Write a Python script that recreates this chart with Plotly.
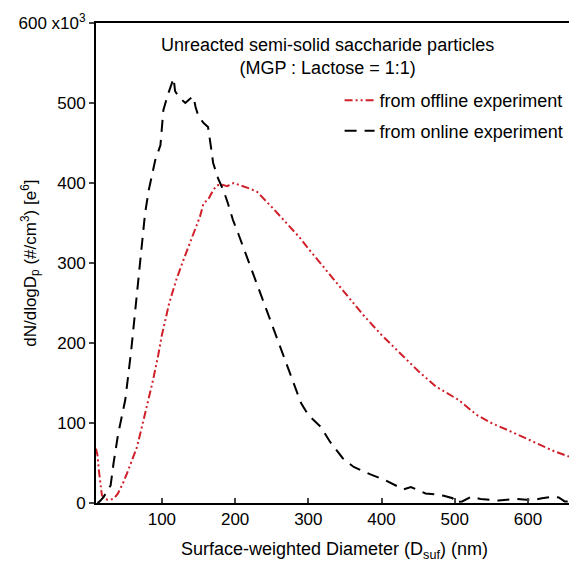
import plotly.graph_objects as go

# Online experiment (black dashed)
online_x = [12, 15, 20, 25, 30, 34, 40, 47, 50, 58, 65, 71, 77, 82, 88, 91, 98, 102, 108, 113, 116, 118,
            120, 126, 132, 138, 143, 146, 150, 157, 163, 167, 170, 177, 184, 190, 197, 205, 216, 225, 232,
            240, 248, 258, 268, 278, 290, 300, 317, 330, 347, 362, 384, 404, 420, 430, 440, 448, 460, 473,
            485, 497, 499, 510, 523, 535, 545, 560, 571, 585, 598, 610, 619, 634, 642, 650, 656]
online_y = [0, 2, 7, 14, 22, 50, 85, 116, 129, 190, 255, 308, 362, 391, 415, 429, 447, 491, 510, 525, 531,
            515, 512, 505, 500, 505, 508, 495, 483, 475, 470, 445, 425, 405, 391, 375, 354, 335, 308, 285,
            270, 250, 229, 205, 179, 155, 125, 110, 95, 76, 56, 45, 36, 29, 22, 17, 20, 17, 12, 11,
            9, 6, 1, 2, 8, 5, 4, 3, 4, 5, 4, 4, 6, 8, 7, 2, 2]

# Offline experiment (red dash-dot)
offline_x = [10, 12, 14, 16, 18, 22, 26, 30, 35, 40, 47, 54, 60, 66, 75, 84, 88, 95, 100, 110, 120, 129.5,
             136, 143, 152, 157, 163, 170, 175, 182, 189, 198, 207, 215, 220, 230, 240, 250, 262, 275, 288,
             300, 316, 330, 350, 375, 400, 425, 450, 475, 505, 530, 550, 575, 592, 615, 635, 656]
offline_y = [68, 60, 40, 20, 10, 5, 4, 4, 6, 12, 25, 41, 55, 70, 104, 137, 154, 185, 210, 250, 280, 304,
             320, 337, 358, 375, 379, 391, 397, 398, 396, 400, 397, 395, 393, 389, 380, 370, 358, 345, 332,
             318, 300, 285, 262, 235, 210, 188, 165, 145, 129, 110, 100, 90, 83, 73, 65, 58]

x_ticks = [100, 200, 300, 400, 500, 600]
y_ticks = [0, 100, 200, 300, 400, 500, 600]
y_ticktext = ["0", "100", "200", "300", "400", "500", "600 x10<sup>3</sup>"]

FONT = "Arial, Liberation Sans, sans-serif"

fig = go.Figure()
fig.add_trace(go.Scatter(
    x=offline_x, y=offline_y, mode="lines", name="from offline experiment",
    line=dict(color="#d0202a", width=2, dash="8px,3px,2px,3px,2px,3px"),
    legendgroup="a"))
fig.add_trace(go.Scatter(
    x=online_x, y=online_y, mode="lines", name="from online experiment",
    line=dict(color="black", width=2, dash="12px,8px"),
    legendgroup="b"))

fig.update_layout(
    width=569, height=563,
    margin=dict(l=96, r=0, t=23, b=60),
    paper_bgcolor="white", plot_bgcolor="white",
    font=dict(family=FONT, size=18, color="black"),
    showlegend=True,
    legend=dict(x=0.515, y=0.877, xanchor="left", yanchor="top",
                bgcolor="rgba(0,0,0,0)", font=dict(size=18),
                traceorder="grouped", tracegroupgap=4),
    xaxis=dict(range=[10, 656], tickvals=x_ticks, ticks="inside", ticklen=5,
               tickwidth=1.5, showline=True, linecolor="black", linewidth=2,
               mirror=True, showgrid=False, zeroline=False,
               tickfont=dict(size=17)),
    yaxis=dict(range=[0, 600], tickvals=y_ticks, ticktext=y_ticktext,
               ticks="outside", ticklen=5, tickwidth=1.5, showline=True,
               linecolor="black", linewidth=2, showgrid=False, zeroline=False,
               tickfont=dict(size=17)),
    annotations=[
        dict(text="Unreacted semi-solid saccharide particles<br>(MGP : Lactose = 1:1)",
             xref="paper", yref="paper", x=0.49, y=0.98, xanchor="center",
             yanchor="top", showarrow=False, font=dict(size=18)),
        dict(text="Surface-weighted Diameter (D<sub>suf</sub>) (nm)",
             xref="paper", yref="paper", x=0.505, y=-0.098, xanchor="center",
             yanchor="middle", showarrow=False, font=dict(size=18)),
        dict(text="dN/dlogD<sub>p</sub> (#/cm<sup>3</sup>) [e<sup>6</sup>]",
             xref="paper", yref="paper", x=-0.14, y=0.5, xanchor="center",
             yanchor="middle", textangle=-90, showarrow=False, font=dict(size=17)),
    ],
)

fig.write_html("out.html")
